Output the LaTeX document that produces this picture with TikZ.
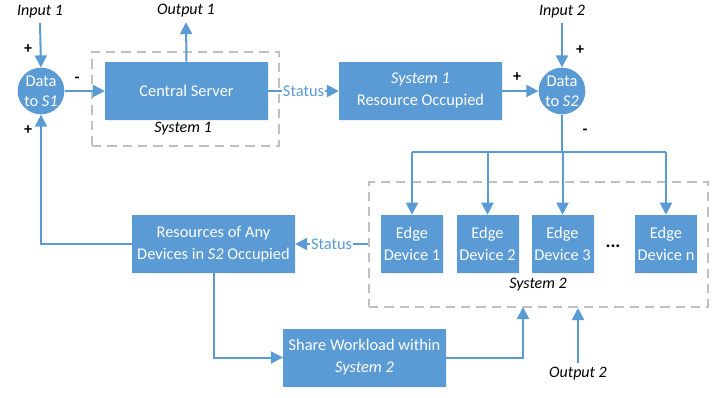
\documentclass[tikz,border=0pt]{standalone}
\usepackage{fontspec}
\setmainfont{Carlito}
\usetikzlibrary{arrows.meta,shadows}

\definecolor{boxblue}{HTML}{5B9BD5}
\definecolor{dashgray}{HTML}{C0C0C0}

\begin{document}
\begin{tikzpicture}[x=0.75pt,y=-0.75pt,font=\fontsize{12.3}{16.5}\selectfont,
    flow/.style={draw=boxblue,line width=1.5pt,-{Triangle[length=9pt,width=9pt]}},
    wire/.style={draw=boxblue,line width=1.5pt},
    block/.style={rectangle,fill=boxblue,text=white,align=center,inner sep=2pt,
        minimum width=122pt,minimum height=43.5pt,
        drop shadow={opacity=0.12,shadow xshift=1pt,shadow yshift=-1pt}},
    edgebox/.style={block,minimum width=46.5pt},
    sumnode/.style={circle,fill=boxblue,text=white,align=center,inner sep=0pt,
        minimum size=35pt,font=\fontsize{12.3}{15}\selectfont},
    sysbox/.style={draw=dashgray,line width=1.5pt,dash pattern=on 7pt off 4.5pt},
    caption/.style={font=\fontsize{12}{14}\selectfont\itshape},
    sign/.style={font=\fontsize{12}{14}\selectfont\bfseries},
    status/.style={fill=white,text=boxblue,inner sep=1pt}]

\useasboundingbox (0,0) rectangle (726,397);

% system boxes
\node[sysbox,minimum width=140.25pt,minimum height=70.5pt] (sys1) at (185.5,99) {};

\node[sysbox,minimum width=254.25pt,minimum height=93.75pt] (sys2) at (538.5,244.5) {};

\node[caption] (sys1lbl) at (183,129) {System 1};

\node[caption] (sys2lbl) at (538,285) {System 2};

% summing points
\node[sumnode] (s1) at (41,91) {Data\\to \textit{S1}};

\node[sumnode] (s2) at (562,91) {Data\\to \textit{S2}};

% blocks
\node[block] (cs) at (186.5,91) {Central Server};

\node[block] (occ) at (420.5,91) {\textit{System 1}\\Resource Occupied};

\node[block] (res) at (213.5,244) {Resources of Any\\Devices in \textit{S2} Occupied};

\node[block] (share) at (364.5,357.5) {Share Workload within\\\textit{System 2}};

\node[edgebox] (e1) at (412,244) {Edge\\Device 1};

\node[edgebox] (e2) at (487.5,244) {Edge\\Device 2};

\node[edgebox] (e3) at (562.5,244) {Edge\\Device 3};

\node[edgebox] (en) at (666,244) {Edge\\Device n};

\node[font=\fontsize{14}{14}\selectfont\bfseries] (dots) at (613,246) {...};

% inputs and outputs
\node[caption] (in1) at (40,12) {Input 1};

\node[caption] (in2) at (562,12) {Input 2};

\node[caption] (out1) at (186,11) {Output 1};

\node[caption] (out2) at (578,374) {Output 2};

\draw[flow] (in1.south) -- (s1.north);

\draw[flow] (in2.south) -- (s2.north);

\draw[flow] (cs.north) -- (out1.south);

\draw[flow] (out2.north) -- (out2.north |- sys2.south);

% signs at the summing points
\node[sign] (p1) at (28,49) {+};

\node[sign] (m1) at (77,80) {-};

\node[sign] (p2) at (28,130) {+};

\node[sign] (p3) at (517,77) {+};

\node[sign] (p4) at (580,50) {+};

\node[sign] (m2) at (585,132) {-};

% forward path
\draw[flow] (s1.east) -- (cs.west);

\draw[flow] (cs.east) -- node[status] {Status} (occ.west);

\draw[flow] (occ.east) -- (s2.west);

% bus to the edge devices
\coordinate (bus) at (562,152);

\draw[wire] (s2.south) -- (bus);

\draw[wire] (e1.north |- bus) -- (en.north |- bus);

\foreach \e in {e1,e2,e3,en}
    \draw[flow] (\e.north |- bus) -- (\e.north);

% feedback from system 2
\draw[flow] (sys2.west |- res.east) -- node[status] {Status} (res.east);

\draw[flow] (res.west) -| (s1.south);

\draw[flow] (res.south) |- (share.west);

\coordinate (s2in) at (523,307);

\draw[flow] (share.east) -| (s2in);

\end{tikzpicture}
\end{document}
